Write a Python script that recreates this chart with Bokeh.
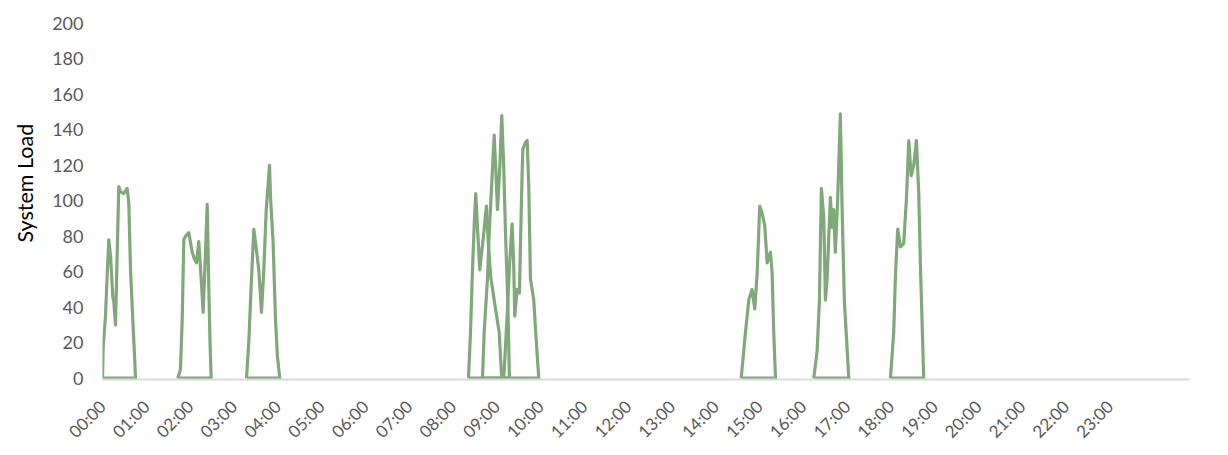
import math
from bokeh.plotting import figure
from bokeh.models import Range1d, FixedTicker, Title
from bokeh.embed import file_html
from bokeh.resources import INLINE

# ---- data: minutes after midnight and system load, one list pair per burst ----
burst1_min = [0.0, 1.0, 4.1, 6.4, 8.6, 11.0, 14.1, 15.5, 17.8, 20.1, 22.3, 24.7, 29.2, 33.8, 36.0, 38.4, 41.5, 44.3, 45.2]
burst1_val = [0, 18, 35, 58, 78, 69, 46, 43, 30, 70, 108, 105, 104, 107, 99, 61, 33, 9, 0]

burst2_min = [103.2, 106.8, 109.2, 111.4, 113.7, 118.2, 122.9, 126.0, 128.8, 131.9, 135.2, 137.9, 141.1, 143.4, 145.6, 147.3, 148.9]
burst2_val = [0, 5, 33, 78, 80, 82, 71, 67, 65, 77, 56, 37, 71, 98, 52, 20, 0]

burst3_min = [197.3, 200.4, 203.7, 207.3, 211.0, 214.1, 217.8, 221.0, 224.3, 227.4, 228.8, 230.2, 233.8, 237.0, 239.7, 242.9]
burst3_val = [0, 20, 52, 84, 72, 61, 37, 61, 95, 112, 120, 102, 76, 33, 12, 0]

burst4_min = [501.4, 504.1, 506.8, 509.6, 511.4, 513.7, 516.9, 519.2, 521.9, 526.0, 528.8, 531.9, 536.6, 543.4, 547.0]
burst4_val = [0, 25, 60, 90, 104, 85, 61, 70, 80, 97, 75, 57, 44, 26, 0]

burst5_min = [520.6, 522.9, 527.4, 529.8, 533.3, 536.6, 538.8, 541.1, 544.3, 547.0, 549.7, 552.1, 555.2, 557.5]
burst5_val = [0, 26, 56, 82, 110, 137, 118, 95, 119, 148, 119, 82, 44, 0]

burst6_min = [549.7, 554.4, 557.5, 561.2, 563.4, 564.8, 568.1, 571.2, 574.0, 575.8, 579.5, 581.8, 584.0, 586.3, 590.8, 594.1, 597.7]
burst6_val = [0, 35, 63, 87, 63, 35, 50, 48, 101, 129, 133, 134, 108, 56, 44, 22, 0]

burst7_min = [875.0, 878.0, 880.9, 885.4, 890.0, 893.6, 896.9, 900.4, 903.7, 907.3, 910.6, 915.1, 917.4, 919.6, 922.0]
burst7_val = [0, 13, 26, 44, 50, 39, 59, 97, 93, 86, 65, 71, 59, 26, 0]

burst8_min = [974.4, 979.0, 982.2, 984.9, 988.1, 990.4, 992.7, 997.2, 999.5, 1001.7, 1004.0, 1007.2, 1010.9, 1013.2, 1016.3, 1022.4]
burst8_val = [0, 15, 44, 107, 91, 44, 56, 102, 85, 95, 71, 101, 149, 97, 44, 0]

burst9_min = [1079.5, 1084.0, 1086.4, 1089.5, 1093.2, 1097.7, 1101.4, 1104.6, 1107.9, 1111.4, 1115.1, 1118.3, 1120.6, 1125.1]
burst9_val = [0, 26, 59, 84, 74, 76, 101, 134, 114, 120, 134, 104, 63, 0]

bursts = [
    (burst1_min, burst1_val), (burst2_min, burst2_val), (burst3_min, burst3_val),
    (burst4_min, burst4_val), (burst5_min, burst5_val), (burst6_min, burst6_val),
    (burst7_min, burst7_val), (burst8_min, burst8_val), (burst9_min, burst9_val),
]

tick_hours = list(range(24))
tick_labels = [f"{h:02d}:00" for h in tick_hours]
y_ticks = list(range(0, 201, 20))
y_title = "System Load"

LINE = "#80A87A"
FONT = "Lato"

p = figure(width=1220, height=452, output_backend="svg", toolbar_location=None,
           x_range=Range1d(0, 24.82), y_range=Range1d(-0.8, 200),
           min_border_left=102, min_border_right=31, min_border_top=23, min_border_bottom=72)
p.outline_line_color = None
p.xgrid.visible = False
p.ygrid.visible = False
p.background_fill_color = "white"
p.border_fill_color = "white"

for mins, vals in bursts:
    xs = [m / 60.0 for m in mins] + [mins[0] / 60.0]
    ys = list(vals) + [0]
    p.line(xs, ys, line_color=LINE, line_width=3.2, line_join="round")

xa = p.xaxis[0]
xa.ticker = FixedTicker(ticks=tick_hours)
xa.major_label_overrides = {h: lab for h, lab in zip(tick_hours, tick_labels)}
xa.major_label_orientation = math.pi / 4
xa.axis_line_color = "#D9D9D9"
xa.axis_line_width = 2
xa.major_tick_line_color = None
xa.minor_tick_line_color = None
xa.major_tick_out = 0
xa.major_tick_in = 0
xa.major_label_text_font = FONT
xa.major_label_text_font_size = "17px"
xa.major_label_text_color = "#595959"
xa.major_label_standoff = 24

ya = p.yaxis[0]
ya.ticker = FixedTicker(ticks=y_ticks)
ya.axis_line_color = None
ya.major_tick_line_color = None
ya.minor_tick_line_color = None
ya.major_tick_out = 0
ya.major_tick_in = 0
ya.major_label_text_font = FONT
ya.major_label_text_font_size = "18px"
ya.major_label_text_color = "#595959"
ya.major_label_standoff = 19

# y-axis title as a side title so it can sit a bit above the frame centre (Excel-style)
ytitle = Title(text=y_title, align="left", offset=137, vertical_align="top", standoff=20,
               text_font=FONT, text_font_size="21.5px", text_font_style="normal",
               text_color="#000000")
p.add_layout(ytitle, "left")

open("out.html", "w").write(file_html(p, INLINE))
